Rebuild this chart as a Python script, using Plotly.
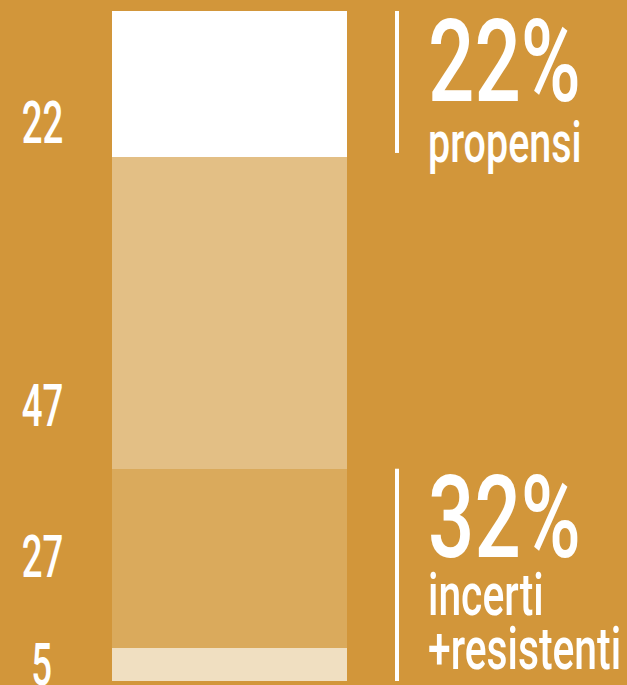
import plotly.graph_objects as go

# data (bottom to top)
segments = ["resistenti", "incerti", "medi", "propensi"]
values = [5, 27, 47, 22]
colors = ["#F0DFC1", "#DAAA5C", "#E3BF85", "#FFFFFF"]
label_y = [664, 556, 405, 122]  # pixel centres of the left labels

BG = "#D2963A"
FONT = "Roboto, sans-serif"
WEIGHT = 500

PLOT_TOP, PLOT_H = 11, 670


def py(p):
    """pixel y (from top) -> paper y"""
    return (PLOT_TOP + PLOT_H - p) / PLOT_H


fig = go.Figure()
for s, v, c in zip(segments, values, colors):
    fig.add_trace(go.Bar(x=[0], y=[v], name=s, marker=dict(color=c, line=dict(width=0)),
                         width=1, hoverinfo="skip"))
total = sum(values)
top_pct = values[3]
bottom_pct = values[0] + values[1]

anchors, scales = [], []

# left labels
for v, ly in zip(values, label_y):
    fig.add_annotation(x=42 / 627, xref="paper", y=py(ly), yref="paper", text=str(v),
                       showarrow=False, xanchor="center", yanchor="middle",
                       font=dict(family=FONT, size=59, color="white", weight=WEIGHT))
    anchors.append("c"); scales.append(0.62)

# vertical lines
LX = 397 / 627
fig.add_shape(type="line", xref="paper", yref="y", x0=LX, x1=LX,
              y0=total - top_pct + 0.6, y1=total, line=dict(color="white", width=4))
fig.add_shape(type="line", xref="paper", yref="y", x0=LX, x1=LX,
              y0=-1, y1=bottom_pct, line=dict(color="white", width=4))

TX = 426 / 627
right_texts = [
    (f"{top_pct}%", 62, 115, 0.71),
    ("propensi", 142, 58, 0.68),
    (f"{bottom_pct}%", 517, 115, 0.71),
    ("incerti", 594, 60, 0.68),
    ("+resistenti", 648, 60, 0.68),
]
for txt, cy, size, sc in right_texts:
    fig.add_annotation(x=TX, xref="paper", y=py(cy), yref="paper", text=txt,
                       showarrow=False, xanchor="left", yanchor="middle",
                       font=dict(family=FONT, size=size, color="white", weight=WEIGHT))
    anchors.append("l"); scales.append(sc)

fig.update_layout(
    barmode="stack", width=627, height=685,
    margin=dict(l=0, r=0, t=PLOT_TOP, b=685 - PLOT_TOP - PLOT_H),
    paper_bgcolor=BG, plot_bgcolor=BG, showlegend=False,
    xaxis=dict(visible=False, range=[-0.9766, 1.6915], fixedrange=True),
    yaxis=dict(visible=False, range=[0, total], fixedrange=True),
    bargap=0,
)

post = """
document.body.style.margin='0';
var gd=document.getElementById('{plot_id}');
var A=%s, S=%s;
gd.querySelectorAll('g.annotation').forEach(function(g,i){
  var t=g.querySelector('text.annotation-text'); if(!t) return;
  var b=t.getBBox();
  var ax=(A[i]=='l')? b.x : b.x+b.width/2;
  t.setAttribute('transform','translate('+ax+',0) scale('+S[i]+',1) translate('+(-ax)+',0)');
});
""" % (str(anchors).replace("'", '"'), str(scales))

fig.write_html("out.html", post_script=post, config={"displayModeBar": False})
